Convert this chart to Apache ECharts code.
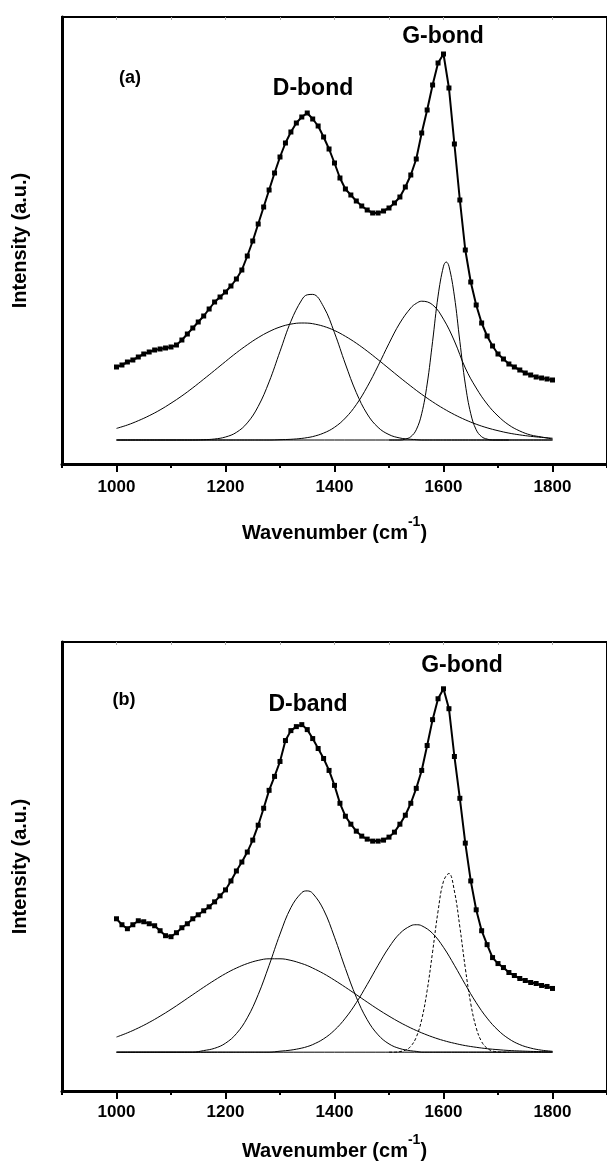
<!DOCTYPE html>
<html><head><meta charset="utf-8">
<script src="https://cdn.jsdelivr.net/npm/echarts@6/dist/echarts.min.js"></script>
<style>html,body{margin:0;padding:0;background:#fff}#c{width:607px;height:1162px}</style>
</head><body><div id="c"></div>
<script>
const FONT = "'Liberation Sans', Arial, sans-serif";

// x ticks
const majorTicks = [1000, 1200, 1400, 1600, 1800];
const minorTicks = [900, 1100, 1300, 1500, 1700, 1900];
const topTicks = [1000, 1100, 1200, 1300, 1400, 1500, 1600, 1700, 1800];

// measured spectra (wavenumber grid, step 10)
const expX = [1000,1010,1020,1030,1040,1050,1060,1070,1080,1090,1100,1110,1120,1130,1140,1150,1160,1170,1180,1190,1200,1210,1220,1230,1240,1250,1260,1270,1280,1290,1300,1310,1320,1330,1340,1350,1360,1370,1380,1390,1400,1410,1420,1430,1440,1450,1460,1470,1480,1490,1500,1510,1520,1530,1540,1550,1560,1570,1580,1590,1600,1610,1620,1630,1640,1650,1660,1670,1680,1690,1700,1710,1720,1730,1740,1750,1760,1770,1780,1790,1800];
const expA = [73,75,78,80,83,86,88,90,91,92, 93,95,100,106,112,118,124,131,138,143, 148,154,161,170,184,199,216,233,250,267, 283,297,308,317,323,327,321,314,303,291, 277,262,251,245,239,234,230,227,227,229, 232,237,243,253,265,281,307,330,355,377, 386,352,296,240,190,158,135,117,104,94, 86,81,76,73,70,67,65,63,62,61, 60];
const expB = [134,128,124,128,132,131,129,127,122,117, 116,120,125,129,134,138,142,146,151,157, 163,172,182,191,201,213,228,245,263,277, 292,313,323,327,329,324,315,305,295,283, 268,250,237,229,222,217,214,212,212,213, 216,221,229,238,250,265,283,308,334,355, 365,345,297,255,210,172,143,122,108,95, 89,85,80,77,74,72,70,69,67,66, 64];

// fitted components
const compX = [1000,1020,1040,1060,1080,1100,1120,1140,1160,1180,1200,1220,1240,1260,1280,1300,1320,1340,1350,1360,1380,1400,1420,1440,1460,1480,1500,1520,1540,1550,1560,1580,1600,1620,1640,1660,1680,1700,1720,1740,1760,1780,1800];
const broadA = [11.6,15.0,19.3,24.3,30.1,36.8,44.1,52.2,60.8,69.6,78.5,87.2,95.2,102.4,108.4,113.0,115.9,117.0,116.9,116.3,113.7,109.5,103.7,96.8,88.9,80.3,71.4,62.5,53.9,49.7,45.7,38.2,31.4,25.4,20.2,15.8,12.2,9.3,6.9,5.1,3.7,2.6,1.8];
const dBandA = [0,0,0,0,0,0,0,0,0.3,1.0,3.0,7.6,17.1,33.6,58.1,88.6,118.7,140.2,145.2,145.6,133.2,107.2,76.0,47.4,26.0,12.6,5.4,2.0,0.7,0.3,0,0,0,0,0,0,0,0,0,0,0,0,0];
const gBroadA = [0,0,0,0,0,0,0,0,0,0,0,0,0,0,0,0.3,0.7,1.6,2.4,3.4,6.9,12.7,22.0,35.4,53.2,74.2,96.6,117.0,132.1,136.6,138.8,135.2,120.8,99.0,72,52,36,24,15,9,5,3,1];
const broadB = [15.2,19.4,24.3,29.9,36.2,43.0,50.3,57.8,65.2,72.3,78.9,84.5,89.0,92.2,93.8,93.8,92.2,89.0,87.0,84.5,78.9,72.3,65.2,57.8,50.3,43.0,36.2,29.9,24.3,21.8,19.4,15.2,11.7,8.9,6.6,4.9,3.5,2.5,1.7,1.2,0.8,0.5,0.3];
const dBandB = [0,0,0,0,0,0,0,0,1.6,3.9,9.0,18.6,34.5,57.8,87.2,118.6,145.2,160.3,162.0,159.5,143.0,115.5,84.1,55.2,32.6,17.4,8.3,3.6,1.4,0.8,0,0,0,0,0,0,0,0,0,0,0,0,0];
const gBroadB = [0,0,0,0,0,0,0,0,0,0,0,0,0,0,0,1.0,2.1,4.1,5.6,7.6,13.4,22.1,34.2,49.7,68.0,87.3,105.3,119.3,127.0,128.0,127.0,119.3,105.3,87.3,68.0,49.7,34.2,22.1,13.4,7.6,4.1,2.0,0.9];

// narrow G components
const gNarrowXA = [1500,1510,1520,1530,1540,1550,1560,1570,1580,1590,1600,1605,1610,1620,1630,1640,1650,1660,1670,1680,1690,1700,1710,1720];
const gNarrowA = [0,0,0,0.9,3.3,10.2,26.3,55.9,98.6,143.9,173.8,178,173.8,143.9,98.6,55.9,26.3,10.2,3.3,0.9,0,0,0,0];
const gNarrowXB = [1500,1510,1520,1530,1540,1550,1560,1570,1580,1590,1600,1610,1620,1630,1640,1650,1660,1670,1680,1690,1700,1710,1720];
const gNarrowB = [0,0,0.6,2.0,5.9,15.0,32.8,61.9,100.8,141.6,171.7,179.5,161.8,125.8,84.4,48.8,24.4,10.5,3.9,1.2,0.3,0,0];

const baseX = [1000, 1800];
const baseY = [0, 0];

function pairs(xs, ys) { return xs.map((x, i) => [x, ys[i]]); }

const chart = echarts.init(document.getElementById('c'), null, {renderer: 'canvas'});

const grids = [
  {left: 62, right: -7, top: 17, height: 447, show: true, borderColor: '#000', borderWidth: 2, backgroundColor: 'transparent'},
  {left: 62, right: -7, top: 642, height: 451, show: true, borderColor: '#000', borderWidth: 2, backgroundColor: 'transparent'}
];

function mainX(gi, margin, nameGap) {
  return {
    gridIndex: gi, type: 'value', min: 900, max: 1900, interval: 100, position: 'bottom',
    axisLine: {show: true, onZero: false, lineStyle: {color: '#000', width: 3}},
    axisTick: {show: true, length: 8, customValues: majorTicks, lineStyle: {color: '#000', width: 2}},
    axisLabel: {customValues: majorTicks, margin: margin, fontSize: 17, fontWeight: 'bold', color: '#000', fontFamily: FONT,
      formatter: v => String(v)},
    splitLine: {show: false},
    name: 'Wavenumber (cm{s|-1})', nameLocation: 'middle', nameGap: nameGap,
    nameTextStyle: {fontSize: 20, fontWeight: 'bold', color: '#000', fontFamily: FONT,
      rich: {s: {fontSize: 14, fontWeight: 'bold', color: '#000', fontFamily: FONT, verticalAlign: 'top', padding: [0, 0, 22, 0]}}}
  };
}
function minorX(gi) {
  return {
    gridIndex: gi, type: 'value', min: 900, max: 1900, interval: 100, position: 'bottom',
    axisLine: {show: false, onZero: false},
    axisTick: {show: true, length: 4, customValues: minorTicks, lineStyle: {color: '#000', width: 2}},
    axisLabel: {show: false}, splitLine: {show: false}
  };
}
function topX(gi) {
  return {
    gridIndex: gi, type: 'value', min: 900, max: 1900, interval: 100, position: 'top',
    axisLine: {show: false, onZero: false},
    axisTick: {show: true, inside: true, length: 3, customValues: topTicks, lineStyle: {color: '#aaa', width: 1}},
    axisLabel: {show: false}, splitLine: {show: false}
  };
}
function yAx(gi, mn, mx) {
  return {
    gridIndex: gi, type: 'value', min: mn, max: mx,
    axisLine: {show: true, onZero: false, lineStyle: {color: '#000', width: 3}},
    axisTick: {show: false}, axisLabel: {show: false}, splitLine: {show: false},
    name: 'Intensity (a.u.)', nameLocation: 'middle', nameGap: 32, nameRotate: 90,
    nameTextStyle: {fontSize: 20, fontWeight: 'bold', color: '#000', fontFamily: FONT}
  };
}

function comp(xi, yi, xs, ys, dashed) {
  return {type: 'line', xAxisIndex: xi, yAxisIndex: yi, data: pairs(xs, ys), smooth: 0.4,
    showSymbol: false, symbol: 'none', silent: true,
    lineStyle: {color: '#000', width: 1, type: dashed ? [3, 2] : 'solid'}};
}
function expSeries(xi, yi, ys) {
  return {type: 'line', xAxisIndex: xi, yAxisIndex: yi, data: pairs(expX, ys),
    symbol: 'rect', symbolSize: 5, showSymbol: true, showAllSymbol: true,
    itemStyle: {color: '#000'}, lineStyle: {color: '#000', width: 2}, z: 5, silent: true};
}

function txt(x, y, s, size) {
  return {type: 'text', x: x, y: y, style: {text: s, font: 'bold ' + size + 'px ' + FONT, fill: '#000', align: 'center', verticalAlign: 'middle'}};
}

chart.setOption({
  animation: false,
  backgroundColor: '#fff',
  grid: grids,
  xAxis: [mainX(0, 15, 51), minorX(0), mainX(1, 13, 42), minorX(1), topX(0), topX(1)],
  yAxis: [yAx(0, -24, 423), yAx(1, -39, 412)],
  series: [
    comp(0, 0, baseX, baseY), comp(0, 0, compX, broadA), comp(0, 0, compX, dBandA), comp(0, 0, compX, gBroadA), comp(0, 0, gNarrowXA, gNarrowA),
    expSeries(0, 0, expA),
    comp(2, 1, baseX, baseY), comp(2, 1, compX, broadB), comp(2, 1, compX, dBandB), comp(2, 1, compX, gBroadB), comp(2, 1, gNarrowXB, gNarrowB, true),
    expSeries(2, 1, expB)
  ],
  graphic: [
    txt(130, 78, '(a)', 18), txt(313, 89, 'D-bond', 23), txt(443, 37, 'G-bond', 23),
    txt(124, 700, '(b)', 18), txt(308, 705, 'D-band', 23), txt(462, 666, 'G-bond', 23)
  ]
});
</script></body></html>
